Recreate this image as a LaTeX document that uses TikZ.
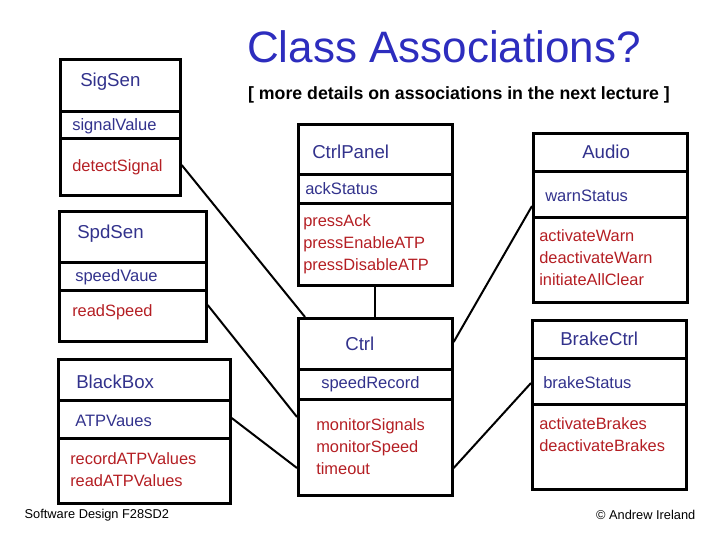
\documentclass[tikz,border=0pt]{standalone}
\usepackage{fontspec}
\setmainfont{Liberation Sans}
\definecolor{nameblue}{RGB}{50,50,140}
\definecolor{opred}{RGB}{180,30,35}
\definecolor{titleblue}{RGB}{45,45,190}
\tikzset{
  part/.style = {draw, line width=2pt, anchor=north west, inner sep=0pt},
  cname/.style = {anchor=west, inner sep=0pt, text=nameblue, font=\fontsize{14}{16}\selectfont},
  cattr/.style = {anchor=west, inner sep=0pt, text=nameblue, font=\fontsize{12.4}{14}\selectfont},
  cops/.style = {anchor=west, inner sep=0pt, text=opred, font=\fontsize{12.3}{16.5}\selectfont, align=left},
  assoc/.style = {line width=1.5pt}
}
% id, left x, top, divider 1, divider 2, bottom, right x
\newcommand{\classbox}[7]{%
  \node[part, minimum width=(#7-#2)*0.75pt, minimum height=(#4-#3)*0.75pt] (#1-n) at (#2,#3) {};
  \node[part, minimum width=(#7-#2)*0.75pt, minimum height=(#5-#4)*0.75pt] (#1-a) at (#2,#4) {};
  \node[part, minimum width=(#7-#2)*0.75pt, minimum height=(#6-#5)*0.75pt] (#1-o) at (#2,#5) {};
}
\begin{document}
\begin{tikzpicture}[x=0.75pt,y=-0.75pt]
\useasboundingbox (0,0) rectangle (720,540);

% title
\node[text=titleblue, font=\fontsize{33}{38}\selectfont] (title) at (444,47) {Class Associations?};
\node[font=\bfseries\fontsize{13.3}{15}\selectfont] (sub) at (459,95) {[ more details on associations in the next lecture ]};

% classes
\classbox{sig}{59}{58}{110}{137}{194}{179}
\classbox{spd}{58}{210}{261}{289}{340}{205}
\classbox{bbx}{57}{358}{399}{437}{502}{229}
\classbox{pan}{297}{123}{173}{202}{284}{451}
\classbox{ctl}{297}{317}{368}{398}{494}{451}
\classbox{aud}{532}{132}{170}{216}{301}{686}
\classbox{brk}{531}{319}{357}{403}{488}{685}

\node[cname] (sig-t) at (80,82) {SigSen};
\node[cattr] (sig-v) at (72,126) {signalValue};
\node[cops] (sig-m) at (72,167) {detectSignal};

\node[cname] (spd-t) at (77,234) {SpdSen};
\node[cattr] (spd-v) at (75,277) {speedVaue};
\node[cops] (spd-m) at (72,312) {readSpeed};

\node[cname] (bbx-t) at (76,382) {BlackBox};
\node[cattr] (bbx-v) at (75,421) {ATPVaues};
\node[cops] (bbx-m) at (70,470) {recordATPValues\\readATPValues};

\node[cname] (pan-t) at (312,152) {CtrlPanel};
\node[cattr] (pan-v) at (305,189) {ackStatus};
\node[cops] (pan-m) at (303,244) {pressAck\\pressEnableATP\\pressDisableATP};

\node[cname] (ctl-t) at (345,344) {Ctrl};
\node[cattr] (ctl-v) at (321,384) {speedRecord};
\node[cops] (ctl-m) at (316,447) {monitorSignals\\monitorSpeed\\timeout};

\node[cname] (aud-t) at (582,152) {Audio};
\node[cattr] (aud-v) at (545,196) {warnStatus};
\node[cops] (aud-m) at (539,258) {activateWarn\\deactivateWarn\\initiateAllClear};

\node[cname] (brk-t) at (560,339) {BrakeCtrl};
\node[cattr] (brk-v) at (543,383) {brakeStatus};
\node[cops] (brk-m) at (539,435) {activateBrakes\\deactivateBrakes};

% associations
\draw[assoc] (sig-o.east |- 0,165) -- (ctl-n.north west -| 305,0);
\draw[assoc] (spd-o.east |- 0,305) -- (ctl-o.west |- 0,417);
\draw[assoc] (bbx-a.east |- 0,418) -- (ctl-o.west |- 0,468);
\draw[assoc] (pan-o.south) -- (ctl-n.north);
\draw[assoc] (aud-o.west |- 0,206) -- (ctl-n.east |- 0,342);
\draw[assoc] (brk-a.west |- 0,383) -- (ctl-o.east |- 0,468);

% footer
\node[anchor=west, font=\fontsize{9.6}{11}\selectfont] (course) at (20,515) {Software Design F28SD2};
\node[anchor=east, font=\fontsize{9.6}{11}\selectfont] (author) at (700,515) {© Andrew Ireland};
\end{tikzpicture}
\end{document}
